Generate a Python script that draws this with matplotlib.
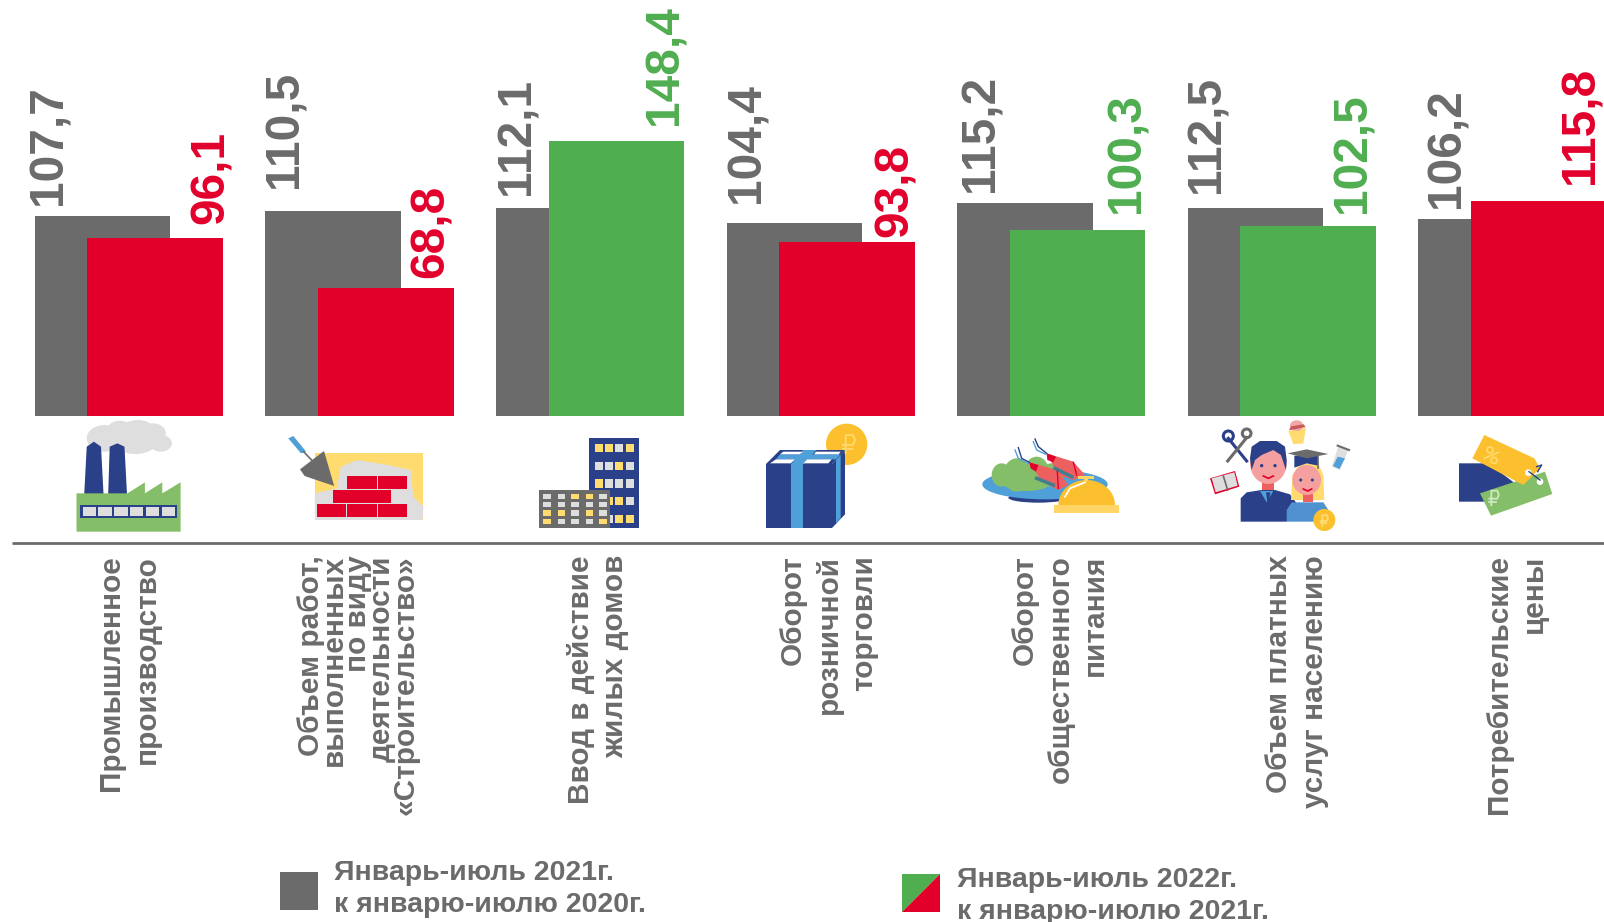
import matplotlib
matplotlib.use('Agg')
import matplotlib.pyplot as plt
import numpy as np
from matplotlib.patches import Polygon, Rectangle, Ellipse

plt.rcParams['font.family'] = ['Liberation Sans', 'DejaVu Sans']

# данные
values_2021 = [107.7, 110.5, 112.1, 104.4, 115.2, 112.5, 106.2]
values_2022 = [96.1, 68.8, 148.4, 93.8, 100.3, 102.5, 115.8]
labels_2021 = ['107,7', '110,5', '112,1', '104,4', '115,2', '112,5', '106,2']
labels_2022 = ['96,1', '68,8', '148,4', '93,8', '100,3', '102,5', '115,8']
categories = [
    ['Промышленное', 'производство'],
    ['Объем работ,', 'выполненных', 'по виду', 'деятельности', '«Строительство»'],
    ['Ввод в действие', 'жилых домов'],
    ['Оборот', 'розничной', 'торговли'],
    ['Оборот', 'общественного', 'питания'],
    ['Объем платных', 'услуг населению'],
    ['Потребительские', 'цены'],
]
legend_2021 = ['Январь-июль 2021г.', 'к январю-июлю 2020г.']
legend_2022 = ['Январь-июль 2022г.', 'к январю-июлю 2021г.']

GRAY = '#6b6b6b'
RED = '#e2002b'
GREEN = '#4fae50'
NAVY = '#2a4089'
BLUE = '#4f9fd8'
YELLOW = '#fcc02e'
PALE = '#ffdb70'
LIGHT = '#dfdede'
LEAF = '#85be68'
PINK = '#f4a0a0'
SALMON = '#ee5f5f'

colors_2022 = [RED, RED, GREEN, RED, GREEN, GREEN, RED]

W, H = 1604, 922
fig = plt.figure(figsize=(W / 100, H / 100), dpi=100)

# столбцы
group_px = 230.6
left_px = 34.7
base_px = 415.7
unit_px = 1.85
width = 135.7 / group_px
shift = 52.6 / group_px

ax = fig.add_axes([0, 0, 1, 1])
ax.set_xlim(-left_px / group_px, (W - left_px) / group_px)
ax.set_ylim(-(H - base_px) / unit_px, base_px / unit_px)
ax.axis('off')
for i in range(len(values_2021)):
    ax.bar(i, values_2021[i], width=width, align='edge', color=GRAY)
    ax.bar(i + shift, values_2022[i], width=width, align='edge', color=colors_2022[i])

# всё остальное в пикселях картинки
ov = fig.add_axes([0, 0, 1, 1], facecolor='none')
ov.set_xlim(0, W)
ov.set_ylim(H, 0)
ov.axis('off')


def vtext(x, y, s, size, color, ha='left'):
    ov.text(x, y, s, rotation=90, rotation_mode='anchor', ha=ha, va='baseline',
            fontsize=size, fontweight='bold', color=color)


# подписи значений: x базовой линии, y начала
x_2021 = [62, 297.5, 530, 760, 993, 1220, 1460]
y_2021 = [204.7, 188, 195, 203, 192, 193, 208]
x_2022 = [223.5, 444, 677, 908, 1139, 1366, 1594]
y_2022 = [224, 278, 125, 237, 213, 213, 184]
for i in range(7):
    vtext(x_2021[i], y_2021[i], labels_2021[i], 34.5, GRAY)
    vtext(x_2022[i], y_2022[i], labels_2022[i], 34.5, colors_2022[i])

ov.plot([12, W], [542.5, 542.5], color=GRAY, lw=2.0, solid_capstyle='butt')

# подписи категорий
label_x = [
    [119, 155],
    [319, 342, 366, 390, 414],
    [589, 623.5],
    [801, 836.5, 872],
    [1033, 1069, 1103],
    [1287, 1323],
    [1507, 1542],
]
for lines, xs in zip(categories, label_x):
    for s, x in zip(lines, xs):
        vtext(x, 555, s, 21.4, GRAY, ha='right')

# легенда
ov.add_patch(Rectangle((280, 872), 38, 38, color=GRAY, lw=0))
ov.add_patch(Polygon([(902, 874), (940, 874), (902, 912)], color=GREEN, lw=0))
ov.add_patch(Polygon([(940, 874), (940, 912), (902, 912)], color=RED, lw=0))
for s, y in zip(legend_2021, [880, 912]):
    ov.text(334, y, s, fontsize=20.5, fontweight='bold', color=GRAY, va='baseline')
for s, y in zip(legend_2022, [887, 919]):
    ov.text(957, y, s, fontsize=20.5, fontweight='bold', color=GRAY, va='baseline')

# значки, координаты снимал с увеличенных кропов
OX, OY, KX, KY = 0, 400, 1.96, 3


def at(ox, oy, kx=3, ky=3):
    global OX, OY, KX, KY
    OX, OY, KX, KY = ox, oy, kx, ky


def sx(x):
    return OX + x / KX


def sy(y):
    return OY + y / KY


def poly(pts, c):
    ov.add_patch(Polygon([(sx(x), sy(y)) for x, y in pts], color=c, lw=0))


def rect(x0, y0, x1, y1, c):
    poly([(x0, y0), (x1, y0), (x1, y1), (x0, y1)], c)


def oval(cx, cy, rx, ry, c):
    ov.add_patch(Ellipse((sx(cx), sy(cy)), 2 * rx / KX, 2 * ry / KY, color=c, lw=0))


def ring(cx, cy, rx, ry, c, lw=2):
    ov.add_patch(Ellipse((sx(cx), sy(cy)), 2 * rx / KX, 2 * ry / KY, fc='none', ec=c, lw=lw))


def stroke(pts, c, lw=1.5):
    ov.plot([sx(x) for x, y in pts], [sy(y) for x, y in pts], color=c, lw=lw)


def ruble(cx, cy, s, c):
    stroke([(cx - 10 * s, cy + 30 * s), (cx - 10 * s, cy - 25 * s), (cx + 12 * s, cy - 25 * s),
            (cx + 18 * s, cy - 10 * s), (cx + 12 * s, cy + 5 * s), (cx - 18 * s, cy + 5 * s)], c, 1.3)
    stroke([(cx - 18 * s, cy + 17 * s), (cx + 8 * s, cy + 17 * s)], c, 1.3)


# завод
for cx, cy, rx, ry in [(205, 115, 35, 40), (235, 90, 25, 28), (270, 85, 30, 25),
                       (300, 100, 25, 30), (315, 130, 22, 25), (265, 130, 40, 32)]:
    oval(cx, cy, rx, ry, LIGHT)
poly([(165, 285), (170, 140), (184, 125), (198, 140), (203, 285)], NAVY)
poly([(212, 285), (215, 140), (230, 130), (244, 140), (249, 285)], NAVY)
poly([(150, 280), (250, 280), (284, 247), (284, 280), (318, 247), (318, 280), (354, 247),
      (354, 395), (150, 395)], LEAF)
rect(157, 315, 347, 355, NAVY)
for k in range(6):
    rect(162 + 31 * k, 322, 188 + 31 * k, 349, LIGHT)

# кирпичи
rect(617, 158, 830, 360, PALE)
poly([(617, 360), (617, 280), (660, 265), (668, 200), (700, 180), (760, 195), (805, 210),
      (810, 290), (830, 320), (828, 360)], LIGHT)
for x0, y0 in [(681, 228), (740, 228), (652, 271), (710, 271), (622, 313), (681, 313), (740, 313)]:
    rect(x0, y0, x0 + 57, y0 + 39, RED)
poly([(635, 153), (655, 258), (597, 228), (588, 208)], GRAY)
stroke([(595, 155), (612, 182)], GRAY, 1.2)
poly([(565, 115), (575, 108), (600, 155), (590, 160)], BLUE)

# дома
rect(1155, 115, 1252, 385, NAVY)
tower = [PALE, PALE, LIGHT, PALE, LIGHT, LIGHT, PALE, LIGHT, PALE, LIGHT, LIGHT, LIGHT,
         LIGHT, PALE, PALE, LIGHT, LIGHT, LIGHT, PALE, PALE]
for r, y0 in enumerate([132, 185, 238, 291, 344]):
    for k, x0 in enumerate([1166, 1186, 1206, 1226]):
        rect(x0, y0, x0 + 16, y0 + 25, tower[r * 4 + k])
rect(1057, 270, 1196, 385, GRAY)
low = [LIGHT, LIGHT, PALE, PALE, LIGHT, LIGHT, LIGHT, LIGHT, LIGHT, LIGHT,
       PALE, PALE, LIGHT, PALE, LIGHT, PALE, LIGHT, LIGHT, LIGHT, PALE]
for r, y0 in enumerate([282, 306, 331, 356]):
    for k, x0 in enumerate([1065, 1093, 1120, 1148, 1175]):
        rect(x0, y0, x0 + 14, y0 + 16, low[r * 5 + k])

# коробка и монета
at(750, 415)
oval(290, 88, 62, 62, YELLOW)
ruble(297, 85, 1.0, PALE)
poly([(47, 148), (90, 105), (285, 105), (245, 148)], NAVY)
poly([(78, 133), (90, 118), (272, 118), (258, 133)], BLUE)
poly([(122, 148), (160, 105), (200, 105), (160, 148)], BLUE)
for pane in [[(90, 118), (100, 110), (160, 110), (148, 118)],
             [(192, 118), (198, 110), (272, 110), (266, 118)],
             [(60, 145), (78, 133), (135, 133), (122, 145)],
             [(160, 145), (172, 133), (245, 133), (235, 145)]]:
    poly(pane, 'white')
rect(47, 148, 245, 340, NAVY)
rect(122, 148, 158, 340, BLUE)
poly([(245, 148), (285, 105), (285, 298), (245, 340)], NAVY)
poly([(258, 135), (272, 120), (272, 310), (258, 325)], BLUE)

# блюдо
at(970, 425)
oval(205, 218, 90, 15, NAVY)
oval(225, 178, 188, 45, BLUE)
for cx, cy, rx, ry in [(95, 150, 30, 35), (140, 150, 40, 50), (200, 135, 35, 40),
                       (170, 170, 75, 28), (245, 150, 35, 35)]:
    oval(cx, cy, rx, ry, LEAF)
poly([(230, 85), (310, 110), (345, 150), (310, 165), (265, 150)], SALMON)
poly([(230, 85), (258, 95), (250, 112), (232, 105)], RED)
stroke([(230, 85), (205, 65), (195, 42)], NAVY, 1.0)
stroke([(227, 88), (200, 75), (190, 50)], BLUE, 1.0)
stroke([(255, 130), (305, 155)], '#3f7f8f', 2.5)
stroke([(310, 112), (320, 150)], RED, 1.0)
poly([(180, 112), (260, 135), (295, 180), (265, 195), (215, 170)], SALMON)
poly([(178, 112), (205, 120), (198, 140), (182, 130)], RED)
stroke([(178, 112), (155, 100), (145, 68)], NAVY, 1.0)
stroke([(175, 115), (145, 100), (135, 75)], BLUE, 1.0)
stroke([(200, 160), (250, 180)], '#3f7f8f', 2.5)
stroke([(262, 138), (265, 190)], RED, 1.0)
t = np.linspace(np.pi, 2 * np.pi, 30)
poly(list(zip(350 + 85 * np.cos(t), 240 + 75 * np.sin(t))), YELLOW)
rect(252, 240, 447, 265, '#ffd566')
rect(342, 155, 355, 168, '#ffd566')
rect(325, 152, 372, 161, '#ffd566')
stroke([(285, 215), (300, 190), (345, 172)], 'white', 1.3)

# люди
at(1205, 415)
stroke([(70, 70), (125, 138)], NAVY, 2.2)
ring(70, 63, 15, 15, NAVY, 2.2)
stroke([(125, 68), (68, 138)], GRAY, 2.2)
ring(125, 55, 13, 13, GRAY, 2.2)
poly([(15, 190), (90, 168), (103, 215), (30, 238)], RED)
poly([(20, 190), (88, 172), (98, 212), (32, 232)], LIGHT)
stroke([(55, 183), (68, 225)], GRAY, 1.2)
poly([(250, 48), (303, 38), (295, 85), (265, 88)], PALE)
oval(275, 32, 20, 16, '#f2a6a6')
poly([(252, 46), (302, 36), (296, 28), (258, 34)], '#c85a5a')
poly([(400, 95), (430, 105), (405, 165), (380, 155)], LIGHT)
poly([(398, 125), (420, 130), (403, 162), (384, 153)], BLUE)
stroke([(398, 92), (432, 105)], GRAY, 1.5)
poly([(107, 320), (107, 250), (125, 232), (170, 225), (210, 225), (255, 238), (275, 265),
      (245, 320)], NAVY)
poly([(165, 228), (185, 262), (205, 228)], BLUE)
poly([(183, 232), (196, 232), (192, 262), (187, 262)], NAVY)
rect(172, 200, 208, 225, SALMON)
oval(190, 145, 55, 62, PINK)
poly([(135, 130), (140, 95), (165, 78), (215, 78), (240, 95), (245, 135), (243, 165),
      (228, 120), (205, 105), (170, 120), (150, 135), (140, 165)], NAVY)
oval(170, 152, 5, 5, NAVY)
oval(210, 152, 5, 5, NAVY)
stroke([(175, 183), (190, 190), (205, 183)], RED, 1.2)
poly([(258, 255), (262, 180), (285, 145), (340, 145), (355, 180), (358, 255), (258, 255)], PALE)
rect(293, 238, 325, 262, SALMON)
oval(305, 195, 43, 45, PINK)
oval(287, 195, 4.5, 4.5, NAVY)
oval(322, 195, 4.5, 4.5, NAVY)
stroke([(295, 222), (308, 228), (320, 222)], RED, 1.2)
poly([(245, 320), (245, 285), (260, 262), (355, 262), (370, 285), (370, 320)], '#4f90d0')
poly([(268, 122), (340, 122), (340, 152), (305, 145), (268, 158)], NAVY)
poly([(248, 115), (305, 103), (370, 117), (305, 130)], GRAY)
stroke([(340, 125), (340, 160)], GRAY, 1.2)
oval(358, 315, 33, 33, YELLOW)
ruble(358, 315, 0.6, PALE)

# ценники
at(1445, 425)
poly([(42, 115), (130, 115), (210, 175), (210, 230), (42, 230)], NAVY)
poly([(105, 205), (300, 140), (322, 207), (138, 272)], LEAF)
poly([(118, 30), (268, 100), (285, 130), (235, 180), (82, 100)], YELLOW)
oval(250, 143, 10, 10, 'white')
oval(285, 170, 10, 10, 'white')
stroke([(252, 140), (285, 165)], NAVY, 1.0)
stroke([(278, 140), (290, 120), (275, 125)], NAVY, 1.0)
stroke([(118, 100), (160, 82)], PALE, 1.2)
ring(135, 75, 9, 9, PALE, 1.2)
ring(147, 106, 9, 9, PALE, 1.2)
ruble(147, 217, 0.8, '#cfe8c0')

fig.savefig('out.png', dpi=100)
